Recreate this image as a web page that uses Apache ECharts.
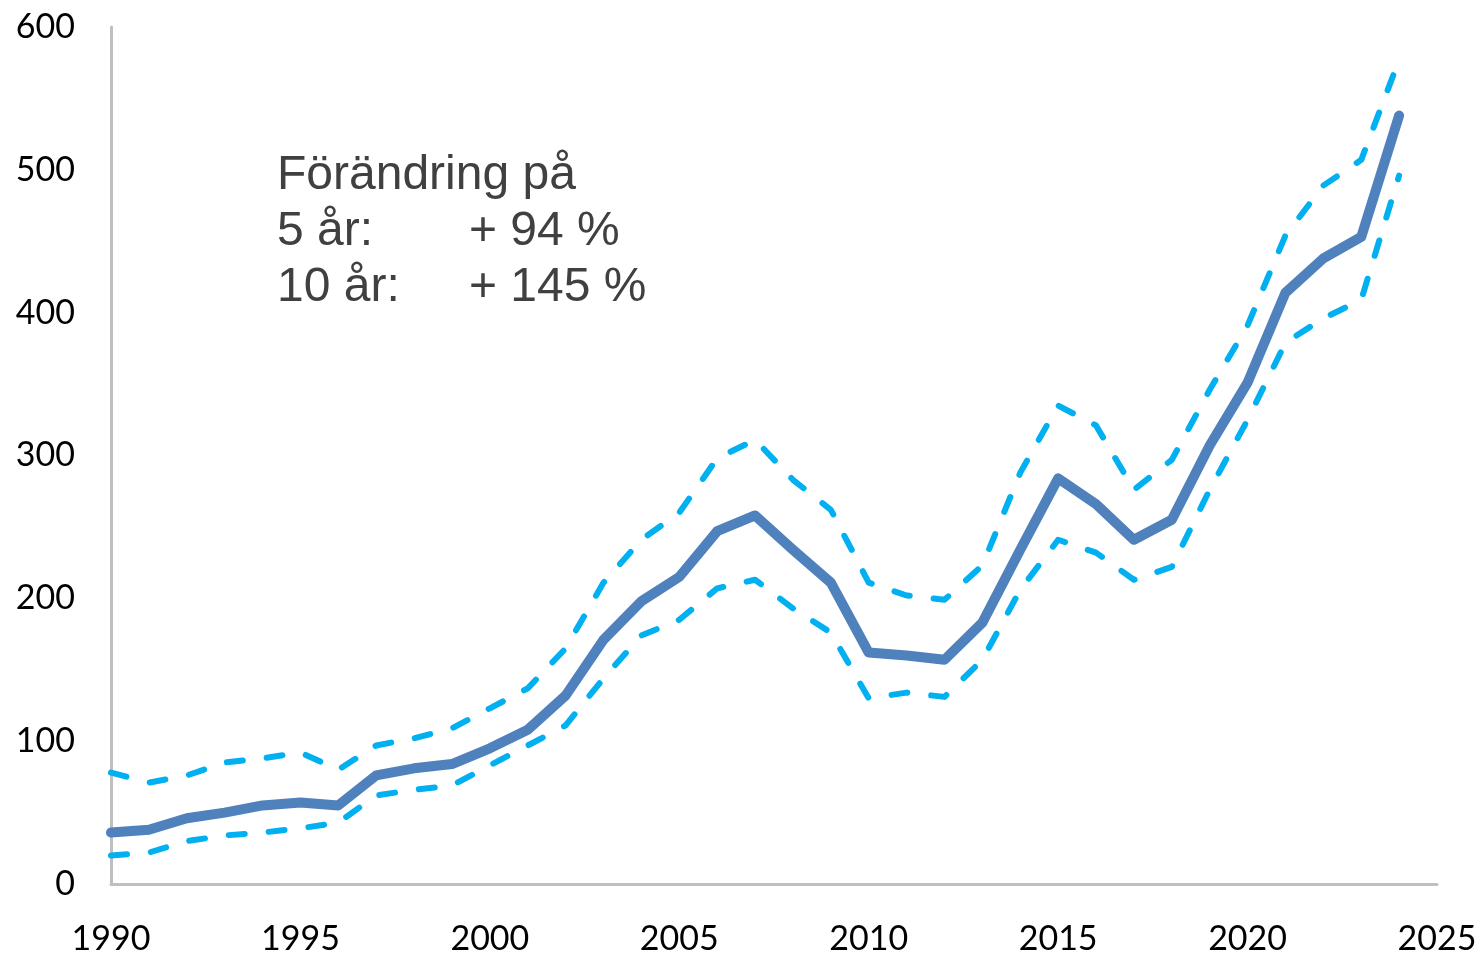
<!DOCTYPE html>
<html>
<head>
<meta charset="utf-8">
<script src="https://cdn.jsdelivr.net/npm/echarts@6/dist/echarts.min.js"></script>
<style>
html,body{margin:0;padding:0;background:#fff;}
#container{width:1481px;height:959px;}
</style>
</head>
<body>
<div id="container"></div>
<script>
var years=[1990,1991,1992,1993,1994,1995,1996,1997,1998,1999,2000,2001,2002,2003,2004,2005,2006,2007,2008,2009,2010,2011,2012,2013,2014,2015,2016,2017,2018,2019,2020,2021,2022,2023,2024];
var mid=[36,38,46,50,55,57,55,76,81,84,95,108,132,171,198,215,247,258,234,211,162,160,157,183,234,284,266,241,255,307,351,414,438,453,538];
var upper=[78,71,76,85,88,92,80,97,102,109,123,137,165,211,241,260,298,311,283,262,211,202,199,223,288,335,321,276,297,346,391,454,489,507,577];
var lower=[20,22,30,34,36,39,43,62,66,69,83,97,111,144,174,185,207,213,193,176,130,134,131,157,206,241,232,213,222,276,325,379,396,409,496];
var noteLines=['Förändring på','5 år:','10 år:'];
var noteVals=['','+ 94 %','+ 145 %'];

var dom=document.getElementById('container');
var myChart=echarts.init(dom);

function pairs(arr){
    var out=[];
    for(var i=0;i<years.length;i++){
        out.push([years[i],arr[i]]);
    }
    return out;
}

var dashStyle={color:'#00B0F0',width:6,type:[16,24],cap:'round',join:'round'};

// anteckningen uppe till vänster
var note=[];
for(var i=0;i<noteLines.length;i++){
    note.push({type:'text',left:277,top:152+i*56,style:{text:noteLines[i],font:'48px "Liberation Sans", Arial, sans-serif',fill:'#404040'}});
    if(noteVals[i]){
        note.push({type:'text',left:469,top:152+i*56,style:{text:noteVals[i],font:'48px "Liberation Sans", Arial, sans-serif',fill:'#404040'}});
    }
}

var option={
    animation:false,
    grid:{left:111,right:44,top:27,bottom:75,containLabel:false},
    xAxis:{
        type:'value',min:1990,max:2025,interval:5,
        axisLine:{show:true,lineStyle:{color:'#BFBFBF',width:3}},
        axisTick:{show:false},
        splitLine:{show:false},
        axisLabel:{formatter:function(v){return String(v);},color:'#000',fontSize:34,fontFamily:'Lato',margin:38}
    },
    yAxis:{
        type:'value',min:0,max:600,interval:100,
        axisLine:{show:true,lineStyle:{color:'#BFBFBF',width:3}},
        axisTick:{show:false},
        splitLine:{show:false},
        axisLabel:{color:'#000',fontSize:34,fontFamily:'Lato',margin:36}
    },
    graphic:note,
    series:[
        {name:'upper',type:'line',data:pairs(upper),showSymbol:false,symbol:'none',lineStyle:dashStyle,z:2},
        {name:'lower',type:'line',data:pairs(lower),showSymbol:false,symbol:'none',lineStyle:dashStyle,z:2},
        {name:'mid',type:'line',data:pairs(mid),showSymbol:false,symbol:'none',lineStyle:{color:'#4F81BD',width:10,cap:'round',join:'round'},z:3}
    ]
};
myChart.setOption(option);
</script>
</body>
</html>
